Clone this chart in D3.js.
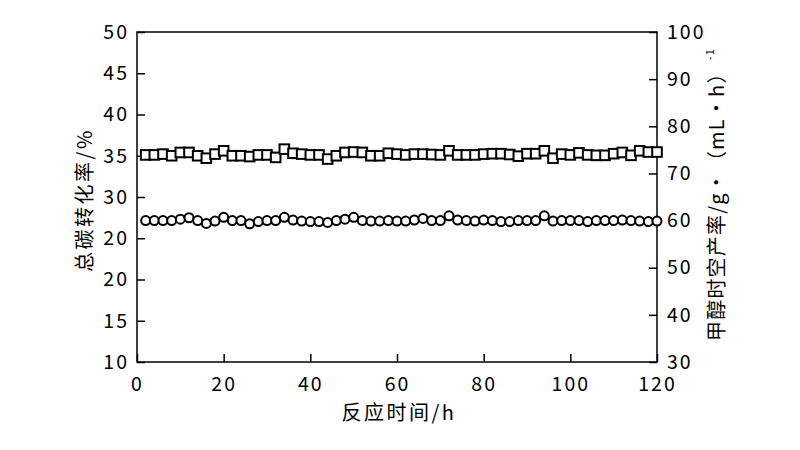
<!DOCTYPE html>
<html><head><meta charset="utf-8">
<script src="https://cdn.jsdelivr.net/npm/d3@7"></script>
<style>
html,body{margin:0;padding:0;background:#fff;}
text{font-family:"Noto Sans CJK SC","Noto Sans",sans-serif;fill:#000;}
</style></head>
<body><svg id="c" width="800" height="450"></svg>
<script>
const hours = d3.range(2, 121, 2);
const carbonConversion = [35.1,35.1,35.2,35.0,35.4,35.4,35.0,34.7,35.2,35.6,35.0,35.0,34.9,35.1,35.1,34.8,35.8,35.3,35.2,35.1,
  35.1,34.6,35.0,35.4,35.45,35.4,35.0,35.0,35.3,35.2,35.1,35.2,35.2,35.15,35.1,35.6,35.1,35.1,35.1,35.2,
  35.25,35.25,35.15,34.95,35.25,35.25,35.6,34.7,35.2,35.1,35.35,35.1,35.05,35.05,35.25,35.4,35.05,35.6,35.45,35.45];
const methanolSTY = [60.0,60.0,60.0,60.0,60.3,60.6,60.0,59.4,59.9,60.7,60.0,60.0,59.3,59.8,60.0,60.0,60.7,60.1,59.9,59.8,
  59.8,59.6,60.0,60.3,60.7,60.0,59.9,59.9,60.0,59.9,59.9,60.1,60.45,60.0,60.0,61.0,60.1,60.0,59.9,60.1,
  60.0,59.8,59.8,60.0,60.0,60.0,61.0,59.9,60.0,60.0,60.0,59.8,60.0,60.0,60.0,60.1,60.0,59.9,59.8,59.9];
const xTicks = [0,20,40,60,80,100,120];
const leftTicks = [10,15,20,25,30,35,40,45,50];
const leftTickLabels = ["10","15","20","20","30","35","40","45","50"];
const rightTicks = [30,40,50,60,70,80,90,100];
const xTitle = "反应时间/h";
const leftTitle = "总碳转化率/%";
const rightTitle = "甲醇时空产率/g•（mL•h）";
const rightTitleSup = "-1";

const L = 137, R = 657, T = 32, B = 362;
const svg = d3.select("#c");
const x = d3.scaleLinear().domain([0,120]).range([L,R]);
const yL = d3.scaleLinear().domain([10,50]).range([B,T]);
const yR = d3.scaleLinear().domain([30,100]).range([B,T]);

const fs = 19.5;
const gx = svg.append("g").attr("transform",`translate(0,${B})`)
  .call(d3.axisBottom(x).tickValues(xTicks).tickSizeInner(-8).tickSizeOuter(0).tickPadding(15));
const gl = svg.append("g").attr("transform",`translate(${L},0)`)
  .call(d3.axisLeft(yL).tickValues(leftTicks).tickFormat((d,i)=>leftTickLabels[i]).tickSizeInner(-8).tickSizeOuter(0).tickPadding(8));
const gr = svg.append("g").attr("transform",`translate(${R},0)`)
  .call(d3.axisRight(yR).tickValues(rightTicks).tickSizeInner(-8).tickSizeOuter(0).tickPadding(10));
[gx,gl,gr].forEach(g=>{
  g.selectAll("path.domain").remove();
  g.selectAll("line").attr("stroke","#000").attr("stroke-width",1.5);
  g.selectAll("text").attr("font-size",fs).attr("font-family",'"Noto Sans CJK SC",sans-serif').attr("fill","#000").style("letter-spacing","2px");
});
svg.append("rect").attr("x",L).attr("y",T).attr("width",R-L).attr("height",B-T)
  .attr("fill","none").attr("stroke","#000").attr("stroke-width",1.5);

// squares
svg.append("g").selectAll("rect").data(hours).join("rect")
  .attr("x",(d,i)=>x(d)-4.8).attr("y",(d,i)=>yL(carbonConversion[i])-4.8)
  .attr("width",9.6).attr("height",9.6).attr("fill","#fff").attr("stroke","#000").attr("stroke-width",2);
// circles
svg.append("g").selectAll("circle").data(hours).join("circle")
  .attr("cx",d=>x(d)).attr("cy",(d,i)=>yR(methanolSTY[i]))
  .attr("r",4.5).attr("fill","#fff").attr("stroke","#000").attr("stroke-width",2);

svg.append("text").attr("x",(L+R)/2 + 2).attr("y",420).attr("text-anchor","middle")
  .attr("font-size",20).style("letter-spacing","2.5px").text(xTitle);
svg.append("text").attr("transform",`translate(92,${(T+B)/2 + 3}) rotate(-90)`).attr("text-anchor","middle")
  .attr("font-size",20).style("letter-spacing","2.5px").text(leftTitle);
const rt = svg.append("text").attr("transform",`translate(724,341) rotate(-90)`).attr("text-anchor","start")
  .attr("font-size",20).style("letter-spacing","1.2px");
rt.append("tspan").text(rightTitle);
rt.append("tspan").attr("font-size",11).attr("dy",-10).attr("dx",2).text(rightTitleSup);
</script></body></html>
